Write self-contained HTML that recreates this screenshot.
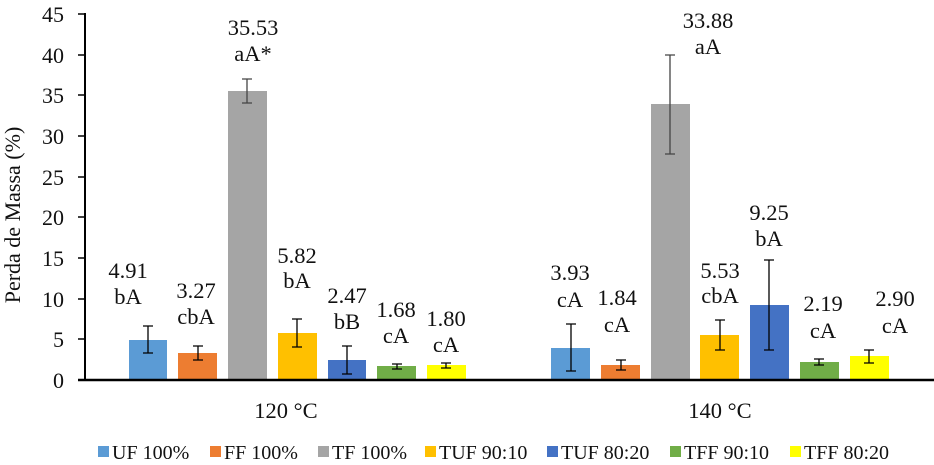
<!DOCTYPE html>
<html><head><meta charset="utf-8"><style>
body{margin:0;background:#fff}
svg{display:block;font-family:"Liberation Serif",serif}
</style></head><body>
<svg width="934" height="465" viewBox="0 0 934 465" xmlns="http://www.w3.org/2000/svg">
<g font-size="22" fill="#111" text-anchor="end">
<text x="64" y="22">45</text><text x="64" y="63">40</text><text x="64" y="103">35</text>
<text x="64" y="144">30</text><text x="64" y="185">25</text><text x="64" y="225">20</text>
<text x="64" y="266">15</text><text x="64" y="307">10</text><text x="64" y="347">5</text>
<text x="64" y="388">0</text>
</g>
<text transform="translate(20,215) rotate(-90)" font-size="22" text-anchor="middle" fill="#111">Perda de Massa (%)</text>
<g stroke="#000" stroke-width="1.5">
<line x1="78" y1="14" x2="86" y2="14"/><line x1="78" y1="55" x2="86" y2="55"/><line x1="78" y1="95" x2="86" y2="95"/>
<line x1="78" y1="136" x2="86" y2="136"/><line x1="78" y1="177" x2="86" y2="177"/><line x1="78" y1="217" x2="86" y2="217"/>
<line x1="78" y1="258" x2="86" y2="258"/><line x1="78" y1="299" x2="86" y2="299"/><line x1="78" y1="339" x2="86" y2="339"/>
</g>
<g>
<rect x="129" y="340" width="38" height="40" fill="#5b9bd5"/>
<rect x="178" y="353" width="39" height="27" fill="#ed7d31"/>
<rect x="228" y="91" width="39" height="289" fill="#a5a5a5"/>
<rect x="278" y="333" width="39" height="47" fill="#ffc000"/>
<rect x="328" y="360" width="38" height="20" fill="#4472c4"/>
<rect x="377" y="366" width="39" height="14" fill="#70ad47"/>
<rect x="427" y="365" width="39" height="15" fill="#ffff00"/>
<rect x="551" y="348" width="39" height="32" fill="#5b9bd5"/>
<rect x="601" y="365" width="39" height="15" fill="#ed7d31"/>
<rect x="651" y="104" width="39" height="276" fill="#a5a5a5"/>
<rect x="700" y="335" width="39" height="45" fill="#ffc000"/>
<rect x="750" y="305" width="39" height="75" fill="#4472c4"/>
<rect x="800" y="362" width="39" height="18" fill="#70ad47"/>
<rect x="850" y="356" width="39" height="24" fill="#ffff00"/>
</g>
<line x1="85" y1="13" x2="85" y2="381" stroke="#000" stroke-width="2"/>
<line x1="78" y1="380" x2="934" y2="380" stroke="#000" stroke-width="2.5"/>
<g stroke="#000" stroke-width="1.3" fill="none">
<path d="M148 326V353M143 326h10M143 353h10"/>
<path d="M198 346V360M193 346h10M193 360h10"/>
<path d="M247 79V103M242 79h10M242 103h10" stroke="#444"/>
<path d="M297 319V347M292 319h10M292 347h10"/>
<path d="M347 346V374M342 346h10M342 374h10"/>
<path d="M397 364V369M392 364h10M392 369h10"/>
<path d="M446 363V368M441 363h10M441 368h10"/>
<path d="M571 324V371M566 324h10M566 371h10"/>
<path d="M621 360V370M616 360h10M616 370h10"/>
<path d="M670 55V154M665 55h10M665 154h10" stroke="#444"/>
<path d="M720 320V350M715 320h10M715 350h10"/>
<path d="M769 260V350M764 260h10M764 350h10"/>
<path d="M819 359V365M814 359h10M814 365h10"/>
<path d="M869 350V363M864 350h10M864 363h10"/>
</g>
<g font-size="22.5" fill="#111" text-anchor="middle">
<text x="128" y="278">4.91</text><text x="128" y="304">bA</text>
<text x="196" y="298">3.27</text><text x="196" y="324">cbA</text>
<text x="253" y="35">35.53</text><text x="253" y="61">aA*</text>
<text x="297" y="263">5.82</text><text x="297" y="288">bA</text>
<text x="347" y="303">2.47</text><text x="347" y="329">bB</text>
<text x="396" y="317">1.68</text><text x="396" y="343">cA</text>
<text x="446" y="326">1.80</text><text x="446" y="352">cA</text>
<text x="570" y="280">3.93</text><text x="570" y="307">cA</text>
<text x="617" y="305">1.84</text><text x="617" y="332">cA</text>
<text x="708" y="28">33.88</text><text x="708" y="54">aA</text>
<text x="720" y="278">5.53</text><text x="720" y="303">cbA</text>
<text x="769" y="220">9.25</text><text x="769" y="246">bA</text>
<text x="823" y="311">2.19</text><text x="823" y="338">cA</text>
<text x="895" y="306">2.90</text><text x="895" y="333">cA</text>
<text x="286" y="418">120 °C</text>
<text x="720" y="418">140 °C</text>
</g>
<g font-size="20" fill="#111">
<rect x="98" y="446" width="11" height="11" fill="#5b9bd5"/><text x="112" y="459">UF 100%</text>
<rect x="210" y="446" width="11" height="11" fill="#ed7d31"/><text x="224" y="459">FF 100%</text>
<rect x="318" y="446" width="11" height="11" fill="#a5a5a5"/><text x="332" y="459">TF 100%</text>
<rect x="425" y="446" width="11" height="11" fill="#ffc000"/><text x="439" y="459">TUF 90:10</text>
<rect x="547" y="446" width="11" height="11" fill="#4472c4"/><text x="561" y="459">TUF 80:20</text>
<rect x="670" y="446" width="11" height="11" fill="#70ad47"/><text x="684" y="459">TFF 90:10</text>
<rect x="790" y="446" width="11" height="11" fill="#ffff00"/><text x="804" y="459">TFF 80:20</text>
</g>
</svg>
</body></html>
